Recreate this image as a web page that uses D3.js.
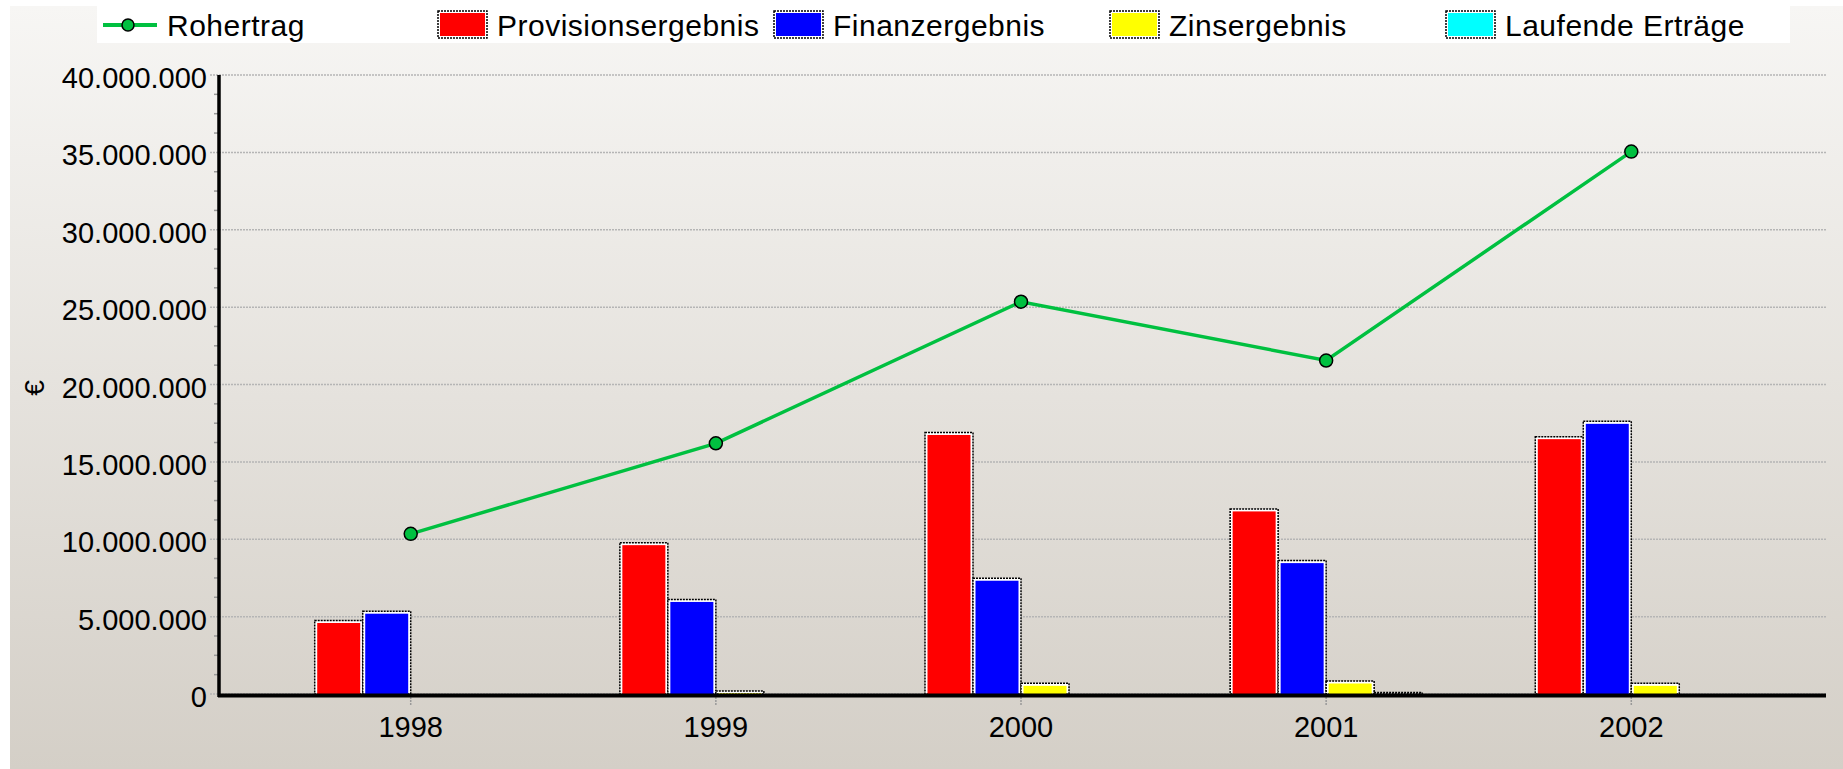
<!DOCTYPE html>
<html>
<head>
<meta charset="utf-8">
<script src="https://cdn.jsdelivr.net/npm/d3@7"></script>
<style>
    body { margin: 0; background: #fff; }
    text { font-family: "Liberation Sans", Arial, sans-serif; fill: #000; }
</style>
</head>
<body>
<script>
var years = ["1998", "1999", "2000", "2001", "2002"];
var rohertrag = [10350000, 16200000, 25350000, 21550000, 35050000];
var provision = [4750000, 9780000, 16900000, 11960000, 16630000];
var finanz = [5350000, 6110000, 7480000, 8620000, 17620000];
var zins = [0, 200000, 690000, 840000, 690000];
var laufend = [0, 0, 0, 100000, 0];

var barNames = ["Provisionsergebnis", "Finanzergebnis", "Zinsergebnis", "Laufende Erträge"];
var barColors = ["#ff0000", "#0000ff", "#ffff00", "#00ffff"];
var barValues = [provision, finanz, zins, laufend];
var lineName = "Rohertrag";
var lineColor = "#00c040";
var yTicks = [0, 5000000, 10000000, 15000000, 20000000, 25000000, 30000000, 35000000, 40000000];

var w = 1843,
    h = 769;

var plotL = 220, plotR = 1826, plotT = 75, plotB = 694;

var svg = d3.select("body").append("svg")
    .attr("width", w)
    .attr("height", h);

var grad = svg.append("defs").append("linearGradient")
    .attr("id", "bg")
    .attr("x1", 0).attr("y1", 0).attr("x2", 0).attr("y2", 1);
grad.append("stop").attr("offset", "0%").attr("stop-color", "#f7f6f4");
grad.append("stop").attr("offset", "100%").attr("stop-color", "#d4cfc7");

svg.append("rect")
    .attr("x", 10).attr("y", 6)
    .attr("width", w - 10).attr("height", h - 6)
    .attr("fill", "url(#bg)");

var y = d3.scaleLinear()
    .domain([0, 40000000])
    .range([plotB, plotT]);

var x = d3.scalePoint()
    .domain(years)
    .range([plotL, plotR - 4])
    .padding(0.625);

var sub = d3.scaleBand()
    .domain(barNames)
    .range([-96, 96]);

var fmt = function(v) {
    return d3.format(",")(v).replace(/,/g, ".");
};

// grid + ticks
svg.append("g").selectAll("line")
    .data(yTicks)
    .enter().append("line")
    .attr("x1", plotL - 10).attr("x2", plotR)
    .attr("y1", function(d) { return y(d); })
    .attr("y2", function(d) { return y(d); })
    .attr("stroke", "#b5b5b5")
    .attr("stroke-width", 1.5)
    .attr("stroke-dasharray", "2,1");

svg.append("g").selectAll("line")
    .data(d3.range(1250000, 40000000, 1250000).filter(function(d) { return d % 5000000 != 0; }))
    .enter().append("line")
    .attr("x1", plotL - 6).attr("x2", plotL)
    .attr("y1", function(d) { return y(d); })
    .attr("y2", function(d) { return y(d); })
    .attr("stroke", "#999")
    .attr("stroke-width", 1.5);

svg.append("g").selectAll("text")
    .data(yTicks)
    .enter().append("text")
    .attr("x", 207)
    .attr("y", function(d) { return y(d) + 3; })
    .attr("text-anchor", "end")
    .attr("dominant-baseline", "central")
    .attr("font-size", 29)
    .text(fmt);

svg.append("g").selectAll("line")
    .data(years)
    .enter().append("line")
    .attr("x1", function(d) { return x(d); })
    .attr("x2", function(d) { return x(d); })
    .attr("y1", plotB + 3).attr("y2", plotB + 12)
    .attr("stroke", "#999")
    .attr("stroke-width", 1.5)
    .attr("stroke-dasharray", "2,1");

svg.append("g").selectAll("text")
    .data(years)
    .enter().append("text")
    .attr("x", function(d) { return x(d); })
    .attr("y", 737)
    .attr("text-anchor", "middle")
    .attr("font-size", 29)
    .text(function(d) { return d; });

svg.append("text")
    .attr("transform", "translate(44,388)rotate(-90)")
    .attr("text-anchor", "middle")
    .attr("font-size", 28)
    .text("€");

// bars
barNames.forEach(function(name, s) {
    var g = svg.append("g");
    var data = years.map(function(yr, i) { return { year: yr, v: barValues[s][i] }; })
        .filter(function(d) { return d.v > 0; });

    g.selectAll("rect.outer")
        .data(data)
        .enter().append("rect")
        .attr("class", "outer")
        .attr("x", function(d) { return x(d.year) + sub(name); })
        .attr("y", function(d) { return y(d.v); })
        .attr("width", sub.bandwidth())
        .attr("height", function(d) { return plotB - y(d.v); })
        .attr("fill", "#fff")
        .attr("stroke", "#000")
        .attr("stroke-width", 1.5)
        .attr("stroke-dasharray", "2,1");

    g.selectAll("rect.inner")
        .data(data)
        .enter().append("rect")
        .attr("class", "inner")
        .attr("x", function(d) { return x(d.year) + sub(name) + 2.5; })
        .attr("y", function(d) { return y(d.v) + 2.5; })
        .attr("width", sub.bandwidth() - 5)
        .attr("height", function(d) { return Math.max(0, plotB - y(d.v) - 2.5); })
        .attr("fill", barColors[s]);
});

// axes
svg.append("line")
    .attr("x1", plotL - 1).attr("x2", plotL - 1)
    .attr("y1", plotT).attr("y2", plotB + 3)
    .attr("stroke", "#000")
    .attr("stroke-width", 3.5);

svg.append("line")
    .attr("x1", plotL - 2).attr("x2", plotR)
    .attr("y1", plotB + 1.5).attr("y2", plotB + 1.5)
    .attr("stroke", "#000")
    .attr("stroke-width", 4);

// line
var line = d3.line()
    .x(function(d, i) { return x(years[i]); })
    .y(function(d) { return y(d); });

svg.append("path")
    .datum(rohertrag)
    .attr("d", line)
    .attr("fill", "none")
    .attr("stroke", lineColor)
    .attr("stroke-width", 3.5);

svg.append("g").selectAll("circle")
    .data(rohertrag)
    .enter().append("circle")
    .attr("cx", function(d, i) { return x(years[i]); })
    .attr("cy", function(d) { return y(d); })
    .attr("r", 6.5)
    .attr("fill", lineColor)
    .attr("stroke", "#000")
    .attr("stroke-width", 1.5);

// legend
svg.append("rect")
    .attr("x", 97).attr("y", 6)
    .attr("width", 1693).attr("height", 37)
    .attr("fill", "#fff");

var leg = svg.append("g");
var lx = 103, step = 336;

leg.append("line")
    .attr("x1", lx).attr("x2", lx + 54)
    .attr("y1", 25).attr("y2", 25)
    .attr("stroke", lineColor)
    .attr("stroke-width", 4);
leg.append("circle")
    .attr("cx", lx + 25).attr("cy", 25).attr("r", 6)
    .attr("fill", lineColor)
    .attr("stroke", "#000")
    .attr("stroke-width", 1.5);
leg.append("text")
    .attr("x", lx + 64).attr("y", 36)
    .attr("font-size", 30)
    .attr("letter-spacing", 0.5)
    .text(lineName);

barNames.forEach(function(name, s) {
    var bx = lx + (s + 1) * step - 1;
    leg.append("rect")
        .attr("x", bx).attr("y", 11)
        .attr("width", 49).attr("height", 27)
        .attr("fill", "#fff")
        .attr("stroke", "#000")
        .attr("stroke-width", 1.5)
        .attr("stroke-dasharray", "2,1");
    leg.append("rect")
        .attr("x", bx + 2).attr("y", 13)
        .attr("width", 45).attr("height", 23)
        .attr("fill", barColors[s]);
    leg.append("text")
        .attr("x", bx + 59).attr("y", 36)
        .attr("font-size", 30)
        .attr("letter-spacing", 0.5)
        .text(name);
});
</script>
</body>
</html>
